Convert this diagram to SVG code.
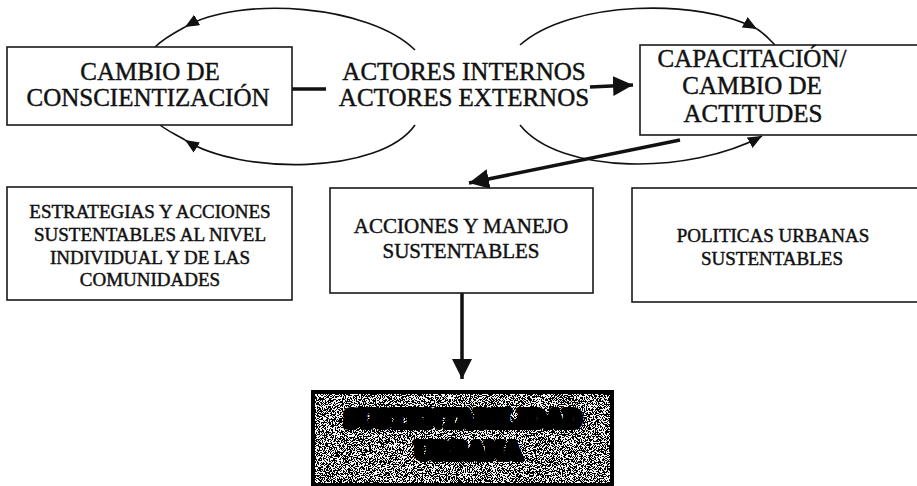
<svg xmlns="http://www.w3.org/2000/svg" width="917" height="486" viewBox="0 0 917 486">
<style>
.box{fill:#fff;stroke:#1a1a1a;stroke-width:1.6}
.t{font-family:"Liberation Serif","Times New Roman",serif;fill:#111;stroke:#111;stroke-width:0.45;text-anchor:middle}
.big{font-size:25px}
.mid{font-size:21px}
.sm{font-size:19px}
.arc{fill:none;stroke:#111;stroke-width:1.6}
.thick{fill:none;stroke:#111;stroke-width:3.5}
.blob{font-family:"Liberation Serif","Times New Roman",serif;font-weight:bold;fill:#000;stroke:#000;stroke-width:6;stroke-linejoin:round;text-anchor:middle;font-size:25px}
</style>
<defs>
<marker id="sm" markerUnits="userSpaceOnUse" markerWidth="16" markerHeight="14" refX="14" refY="6" orient="auto">
<path d="M0,0 L14,6 L0,12 z" fill="#111"/>
</marker>
<marker id="lg" markerUnits="userSpaceOnUse" markerWidth="24" markerHeight="24" refX="20" refY="10" orient="auto">
<path d="M0,0 L20,10 L0,20 z" fill="#111"/>
</marker>
<filter id="noise" x="0" y="0" width="100%" height="100%">
<feTurbulence type="fractalNoise" baseFrequency="1.1" numOctaves="3" seed="7" result="n"/>
<feColorMatrix in="n" type="matrix" values="0 0 0 0 0  0 0 0 0 0  0 0 0 0 0  1.4 0 0 0 -0.2"/>
<feComponentTransfer>
<feFuncA type="discrete" tableValues="0 1"/>
</feComponentTransfer>
</filter>
</defs>

<g id="connectors">
<path class="arc" d="M415,50 C370,5 240,-5 185,27" marker-end="url(#sm)"/>
<path class="arc" d="M185,27 C172,34 162,40 155,47"/>
<path class="arc" d="M415,125 C380,175 240,175 185,140" marker-end="url(#sm)"/>
<path class="arc" d="M185,140 C175,134 166,130 160,125"/>
<path class="arc" d="M520,45 C570,0 700,-2 757,29" marker-end="url(#sm)"/>
<path class="arc" d="M757,29 C765,34 770,40 775,45"/>
<path class="arc" d="M520,125 C560,175 690,175 762,136" marker-end="url(#sm)"/>
<line class="thick" x1="292" y1="89" x2="326" y2="89"/>
<line class="thick" x1="590" y1="87" x2="633" y2="85" marker-end="url(#lg)"/>
<line class="thick" x1="680" y1="140" x2="469" y2="183" stroke-width="3" marker-end="url(#lg)"/>
<line class="thick" x1="462" y1="293" x2="462" y2="379" stroke-width="3" marker-end="url(#lg)"/>
</g>

<g id="node-cambio">
<rect class="box" x="7" y="47" width="285" height="78"/>
<text class="t big" x="150" y="80">CAMBIO DE</text>
<text class="t big" x="148" y="106">CONSCIENTIZACIÓN</text>
</g>

<g id="node-actores">
<text class="t big" x="464" y="80">ACTORES INTERNOS</text>
<text class="t big" x="464" y="106">ACTORES EXTERNOS</text>
</g>

<g id="node-capacitacion">
<rect class="box" x="640" y="45" width="280" height="90"/>
<text class="t big" x="752" y="67">CAPACITACIÓN/</text>
<text class="t big" x="752" y="94">CAMBIO DE</text>
<text class="t big" x="753" y="122">ACTITUDES</text>
</g>

<g id="node-estrategias">
<rect class="box" x="7" y="187" width="285" height="113"/>
<text class="t sm" x="150" y="218">ESTRATEGIAS Y ACCIONES</text>
<text class="t sm" x="150" y="241">SUSTENTABLES AL NIVEL</text>
<text class="t sm" x="150" y="264">INDIVIDUAL Y DE LAS</text>
<text class="t sm" x="150" y="286">COMUNIDADES</text>
</g>

<g id="node-acciones">
<rect class="box" x="330" y="188" width="263" height="105"/>
<text class="t mid" x="461" y="233">ACCIONES Y MANEJO</text>
<text class="t mid" x="461" y="258">SUSTENTABLES</text>
</g>

<g id="node-politicas">
<rect class="box" x="632" y="188" width="290" height="114"/>
<text class="t sm" x="773" y="242">POLITICAS URBANAS</text>
<text class="t sm" x="772" y="265">SUSTENTABLES</text>
</g>

<g id="node-sustentabilidad">
<rect x="313" y="392" width="299" height="93" fill="#f4f4f4"/>
<rect x="313" y="392" width="299" height="93" filter="url(#noise)"/>
<rect x="313" y="392" width="299" height="93" fill="none" stroke="#000" stroke-width="4"/>
<text class="blob" x="463" y="427">SUSTENTABILIDAD</text>
<text class="blob" x="468" y="459">URBANA</text>
</g>
</svg>
